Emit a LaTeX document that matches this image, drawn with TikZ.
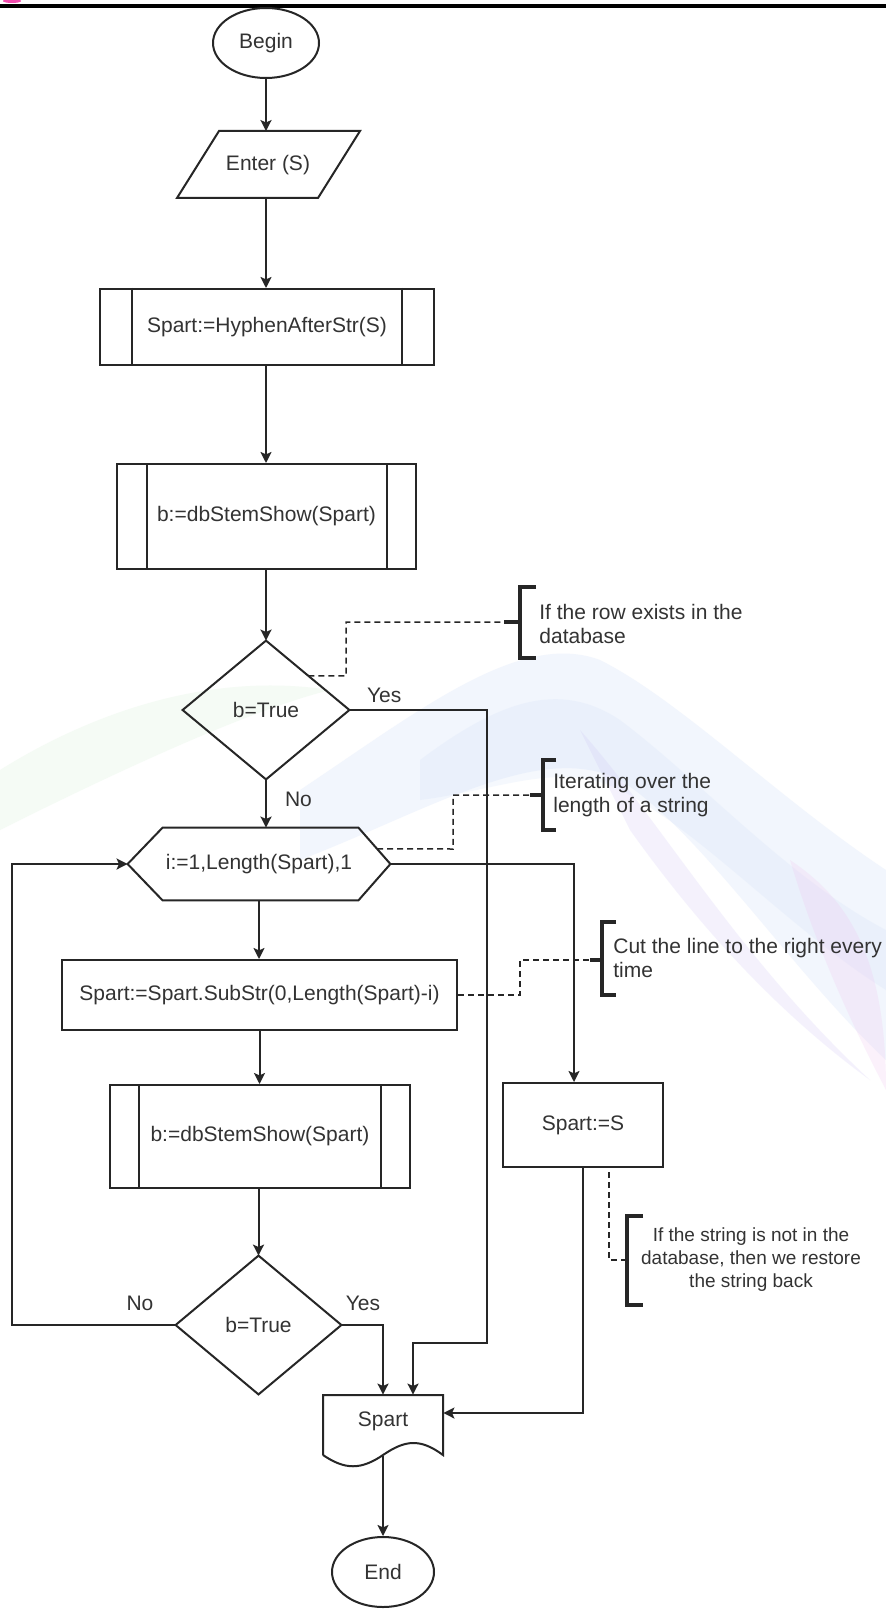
\documentclass[tikz,border=0pt]{standalone}
\usepackage{fontspec}
\setmainfont{Liberation Sans}
\usetikzlibrary{arrows.meta,shapes.geometric,calc}
\definecolor{wblue}{RGB}{190,210,245}
\definecolor{wlav}{RGB}{205,195,245}
\definecolor{wgreen}{RGB}{200,235,200}
\definecolor{wpink}{RGB}{240,200,240}
\begin{document}
\begin{tikzpicture}[x=0.5pt,y=-0.5pt,
  ln/.style={line width=1pt,draw=black!85},
  arr/.style={ln,-{Stealth[length=5.5pt,width=5.5pt,inset=1.2pt]}},
  dsh/.style={line width=0.75pt,draw=black!85,dash pattern=on 3pt off 2pt},
  brk/.style={line width=1.8pt,draw=black!85},
  txt/.style={font=\fontsize{10.5}{12}\selectfont,text=black!80},
  shp/.style={ln,txt,inner sep=0pt},
  ghost/.style={txt,inner sep=0pt},
  ann/.style={font=\fontsize{10.5}{12}\selectfont,text=black!80,inner sep=0pt},
  anns/.style={font=\fontsize{9.5}{11.5}\selectfont,text=black!80,inner sep=0pt}
]
\useasboundingbox (0,0) rectangle (886,1610);
\fill[white] (0,0) rectangle (886,1610);
% faint watercolour background
\fill[wgreen,opacity=0.18] (0,770) .. controls (80,720) and (200,670) .. (330,690)
  .. controls (250,710) and (120,770) .. (0,830) -- cycle;
\fill[wblue,opacity=0.2] (300,790) .. controls (420,710) and (520,630) .. (600,660)
  .. controls (680,700) and (780,800) .. (886,870) -- (886,1060)
  .. controls (790,970) and (700,830) .. (620,780)
  .. controls (540,740) and (430,810) .. (300,860) -- cycle;
\fill[wblue,opacity=0.15] (420,760) .. controls (500,700) and (560,680) .. (620,720)
  .. controls (700,780) and (790,880) .. (886,930) -- (886,990)
  .. controls (790,930) and (700,830) .. (620,790)
  .. controls (560,760) and (500,790) .. (420,800) -- cycle;
\fill[wlav,opacity=0.22] (580,730) .. controls (660,820) and (740,960) .. (870,1080)
  .. controls (760,1000) and (680,900) .. (630,830) -- cycle;
\fill[wpink,opacity=0.25] (790,860) .. controls (850,900) and (886,960) .. (886,1090)
  .. controls (860,1040) and (820,960) .. (790,860) -- cycle;
\fill[black] (0,4) rectangle (886,8);
\fill[magenta!70] (12,1) ellipse (9 and 2);

% nodes
\node[shp,ellipse,draw,minimum width=53pt,minimum height=35pt] (begin) at (266,43) {Begin};
\node[ghost,minimum width=71.5pt,minimum height=33.5pt] (enter) at (268,165) {Enter (S)};
\draw[ln] (177,198) -- (219,131) -- (360,131) -- (318,198) -- cycle;

\node[shp,draw,fill=white,minimum width=167pt,minimum height=38pt] (p1) at (267,327) {Spart:=HyphenAfterStr(S)};
\draw[ln] ([xshift=16.5pt]p1.north west) -- ([xshift=16.5pt]p1.south west);
\draw[ln] ([xshift=-16.5pt]p1.north east) -- ([xshift=-16.5pt]p1.south east);

\node[shp,draw,fill=white,minimum width=149.5pt,minimum height=52.5pt] (p2) at (266.5,516.5) {b:=dbStemShow(Spart)};
\draw[ln] ([xshift=15.5pt]p2.north west) -- ([xshift=15.5pt]p2.south west);
\draw[ln] ([xshift=-15pt]p2.north east) -- ([xshift=-15pt]p2.south east);

\node[ghost,minimum width=83pt,minimum height=69pt] (d1) at (266,710) {b=True};
\draw[ln] (d1.north) -- (d1.east) -- (d1.south) -- (d1.west) -- cycle;

\node[ghost,minimum width=131pt,minimum height=36pt] (hex) at (259,864) {i:=1,Length(Spart),1};
\draw[ln] (hex.west) -- ([xshift=17.5pt]hex.north west) -- ([xshift=-16pt]hex.north east) -- (hex.east) -- ([xshift=-16pt]hex.south east) -- ([xshift=17.5pt]hex.south west) -- cycle;

\node[shp,draw,fill=white,minimum width=197.5pt,minimum height=35pt] (p3) at (259.5,995) {Spart:=Spart.SubStr(0,Length(Spart)-i)};

\node[shp,draw,fill=white,minimum width=150pt,minimum height=51.5pt] (p4) at (260,1136.5) {b:=dbStemShow(Spart)};
\draw[ln] ([xshift=15pt]p4.north west) -- ([xshift=15pt]p4.south west);
\draw[ln] ([xshift=-15pt]p4.north east) -- ([xshift=-15pt]p4.south east);

\node[ghost,minimum width=82.5pt,minimum height=69pt] (d2) at (258.5,1325) {b=True};
\draw[ln] (d2.north) -- (d2.east) -- (d2.south) -- (d2.west) -- cycle;

\node[shp,draw,fill=white,minimum width=80pt,minimum height=42pt] (s) at (583,1125) {Spart:=S};

\node[ghost,minimum width=60pt,minimum height=26pt] (doc) at (383,1421) {Spart};
\draw[ln] (323,1455) -- (323,1395) -- (443,1395) -- (443,1455)
  .. controls (420,1438) and (405,1440) .. (383,1455)
  .. controls (361,1470) and (345,1470) .. (323,1455);
\coordinate (docb) at (383,1456);

\node[shp,ellipse,draw,minimum width=51pt,minimum height=35pt] (end) at (383,1572) {End};

% connectors
\draw[arr] (begin.south) -- (begin.south |- enter.north);
\draw[arr] (enter.south -| begin.south) -- (begin.south |- p1.north);
\draw[arr] (p1.south -| begin.south) -- (begin.south |- p2.north);
\draw[arr] (p2.south -| begin.south) -- (d1.north);
\draw[arr] (d1.south) -- (d1.south |- hex.north);
\draw[arr] (hex.south) -- (hex.south |- p3.north);
\draw[arr] (p3.south) -- (p3.south |- p4.north);
\draw[arr] (p4.south -| d2.north) -- (d2.north);

\coordinate (ya) at (487,1343);
\draw[arr] (d1.east) -| (ya) -| ([xshift=15pt]doc.north);
\draw[arr] (d2.east) -| (doc.north);
\coordinate (lp) at (12,1325);
\draw[arr] (d2.west) -- (lp) |- (hex.west);
\draw[arr] (hex.east) -| ([xshift=-4.5pt]s.north);
\draw[arr] (s.south) |- ([yshift=4pt]doc.east);
\draw[arr] (docb) -- (end.north);

% labels
\node[txt,anchor=west] (yes1) at (360,695) {Yes};
\node[txt,anchor=west] (no1) at (278,799) {No};
\node[txt] (no2) at (140,1303) {No};
\node[txt] (yes2) at (363,1303) {Yes};

% annotation 1
\coordinate (a1s) at ($(d1.north)!0.507!(d1.east)$);
\draw[dsh] (a1s) -- (346,676) -- (346,622) -- (504,622);
\draw[brk] (536,587) -- (520,587) -- (520,658) -- (536,658);
\draw[brk] (504,622) -- (520,622);
\node[ann,anchor=west,align=left] (t1) at (539,624) {If the row exists in the\\database};

% annotation 2
\coordinate (a2s) at ($(hex.east)!0.417!([xshift=-16pt]hex.north east)$);
\draw[dsh] (a2s) -- (453,849) -- (453,795) -- (530,795);
\draw[brk] (556,760) -- (543,760) -- (543,830) -- (556,830);
\draw[brk] (530,795) -- (543,795);
\node[ann,anchor=west,align=left] (t2) at (553,795) {Iterating over the\\length of a string};

% annotation 3
\draw[dsh] (p3.east) -- (520,995) -- (520,960) -- (590,960);
\draw[brk] (616,922) -- (602,922) -- (602,995) -- (616,995);
\draw[brk] (590,960) -- (602,960);
\node[ann,anchor=west,align=left] (t3) at (613,958) {Cut the line to the right every\\time};

% annotation 4
\draw[dsh] (609,1172) -- (609,1260) -- (627,1260);
\draw[brk] (643,1216) -- (627,1216) -- (627,1305) -- (643,1305);
\node[anns,align=center] (t4) at (751,1260) {If the string is not in the\\database, then we restore\\the string back};
\end{tikzpicture}
\end{document}
